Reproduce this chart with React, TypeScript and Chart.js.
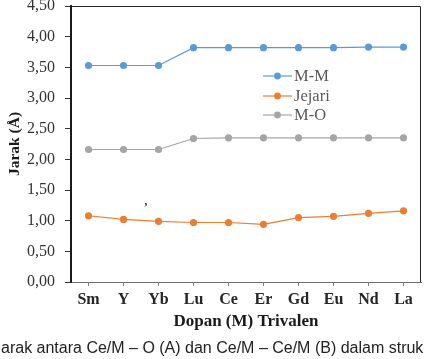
import React, { useEffect, useRef } from "react";
import { Chart, registerables } from "chart.js";

Chart.register(...registerables);

const categories = ["Sm", "Y", "Yb", "Lu", "Ce", "Er", "Gd", "Eu", "Nd", "La"];
const mmValues = [3.53, 3.53, 3.53, 3.82, 3.82, 3.82, 3.82, 3.82, 3.83, 3.83];
const jejariValues = [1.08, 1.02, 0.99, 0.97, 0.97, 0.94, 1.05, 1.07, 1.12, 1.16];
const moValues = [2.16, 2.16, 2.16, 2.34, 2.35, 2.35, 2.35, 2.35, 2.35, 2.35];
const seriesNames = ["M-M", "Jejari", "M-O"];
const seriesColors = ["#5B9BD5", "#ED7D31", "#A5A5A5"];
const yTickLabels = ["0,00", "0,50", "1,00", "1,50", "2,00", "2,50", "3,00", "3,50", "4,00", "4,50"];
const yAxisTitle = "Jarak (Å)";
const xAxisTitle = "Dopan (M) Trivalen";
const caption = "arak antara Ce/M – O (A) dan Ce/M – Ce/M (B) dalam struk";
const strayMark = ",";

const SERIF = "'Liberation Serif', 'Times New Roman', serif";

const framePlugin = {
  id: "frameAndLegend",
  afterDraw(chart: any) {
    const { ctx, chartArea } = chart;
    const { left, right, top, bottom } = chartArea;
    ctx.save();
    // top and right frame
    ctx.strokeStyle = "#262626";
    ctx.lineWidth = 1;
    ctx.beginPath();
    ctx.moveTo(left, top + 0.5);
    ctx.lineTo(right - 0.5, top + 0.5);
    ctx.lineTo(right - 0.5, bottom);
    ctx.stroke();

    // legend
    const lx0 = 263;
    const lx1 = 292;
    const ys = [76, 96, 115];
    ctx.textBaseline = "middle";
    ctx.textAlign = "left";
    chart.data.datasets.forEach((ds: any, i: number) => {
      const y = ys[i];
      ctx.strokeStyle = ds.borderColor;
      ctx.lineWidth = 1.2;
      ctx.beginPath();
      ctx.moveTo(lx0, y);
      ctx.lineTo(lx1, y);
      ctx.stroke();
      ctx.fillStyle = ds.backgroundColor;
      ctx.beginPath();
      ctx.arc((lx0 + lx1) / 2, y, 3.4, 0, Math.PI * 2);
      ctx.fill();
      ctx.fillStyle = "#595959";
      ctx.font = "16.5px " + SERIF;
      ctx.fillText(ds.label, 294, y + 1);
    });

    // stray mark present in the original figure
    ctx.fillStyle = "#222";
    ctx.font = "15px " + SERIF;
    ctx.textBaseline = "alphabetic";
    ctx.fillText(strayMark, 144, 205);
    ctx.restore();
  },
};

export default function App() {
  const ref = useRef<HTMLCanvasElement>(null);
  useEffect(() => {
    const canvas = ref.current;
    if (!canvas) return;
    const values = [mmValues, jejariValues, moValues];
    const chart = new Chart(canvas, {
      type: "line",
      data: {
        labels: categories,
        datasets: values.map((v, i) => ({
          label: seriesNames[i],
          data: v,
          borderColor: seriesColors[i],
          backgroundColor: seriesColors[i],
          pointBackgroundColor: seriesColors[i],
          pointBorderColor: seriesColors[i],
          borderWidth: 1.2,
          pointRadius: 3.6,
          pointBorderWidth: 0,
          tension: 0,
        })),
      },
      options: {
        responsive: false,
        animation: false,
        devicePixelRatio: 1,
        layout: { padding: { top: 6, right: 1, left: 0, bottom: 0 } },
        plugins: {
          legend: { display: false },
          tooltip: { enabled: false },
        },
        scales: {
          x: {
            type: "category",
            offset: true,
            grid: {
              offset: false,
              drawOnChartArea: false,
              drawTicks: true,
              tickLength: 4,
              color: "#808080",
            },
            border: { display: true, color: "#6e6e6e", width: 1 },
            ticks: {
              color: "#262626",
              padding: 4,
              maxRotation: 0,
              autoSkip: false,
              font: { family: SERIF, size: 16, weight: "bold" },
            },
            title: {
              display: true,
              text: xAxisTitle,
              color: "#1a1a1a",
              font: { family: SERIF, size: 17, weight: "bold", lineHeight: 1.2 },
              padding: { top: 0, bottom: 27.3 },
            },
            afterFit: (scale: any) => {
              scale.height = 77;
              scale.paddingLeft = 0;
              scale.paddingRight = 0;
            },
          },
          y: {
            min: 0,
            max: 4.5,
            ticks: {
              stepSize: 0.5,
              color: "#333",
              padding: 10,
              font: { family: SERIF, size: 16 },
              callback: (_v: any, i: number) => yTickLabels[i],
            },
            grid: {
              drawOnChartArea: false,
              drawTicks: true,
              tickLength: 6,
              color: "#333",
            },
            border: { display: true, color: "#1a1a1a", width: 2 },
            title: {
              display: true,
              text: yAxisTitle,
              color: "#1a1a1a",
              font: { family: SERIF, size: 15.5, weight: "bold", lineHeight: 1.2 },
              padding: { top: 5.5, bottom: 0 },
            },
            afterFit: (scale: any) => {
              scale.width = 71;
              scale.paddingTop = 0;
              scale.paddingBottom = 0;
            },
          },
        },
      },
      plugins: [framePlugin],
    });
    return () => chart.destroy();
  }, []);

  return (
    <div
      style={{
        position: "absolute",
        left: 0,
        top: 0,
        width: 425,
        height: 359,
        overflow: "hidden",
        background: "#fff",
      }}
    >
      <canvas ref={ref} width={425} height={359} style={{ display: "block" }} />
      <div
        style={{
          position: "absolute",
          left: 1,
          top: 338,
          whiteSpace: "nowrap",
          fontFamily: "'Liberation Sans', Arial, sans-serif",
          fontSize: 16,
          lineHeight: "20px",
          color: "#222",
        }}
      >
        {caption}
      </div>
    </div>
  );
}
